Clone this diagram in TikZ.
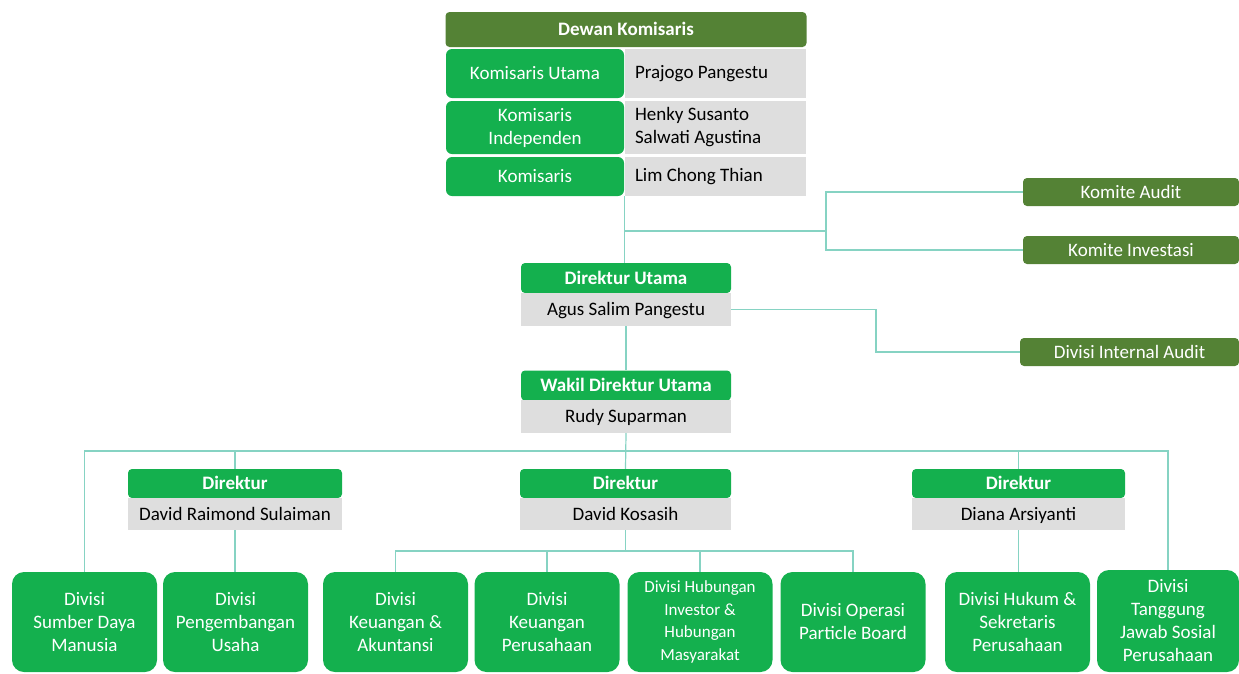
\documentclass[tikz,border=0pt]{standalone}
\usepackage{fontspec}
\setmainfont{Carlito}
\usepackage{tikz}
\definecolor{darkgreen}{HTML}{548235}
\definecolor{brightgreen}{HTML}{14B04E}
\definecolor{namegrey}{HTML}{DEDEDE}
\definecolor{tealline}{HTML}{86D3C3}
\tikzset{every picture/.style={x=1pt, y=-1pt}}
\tikzset{every node/.style={inner sep=0pt, font=\fontsize{19}{23}\selectfont}}
\tikzset{
  darkbox/.style={fill=darkgreen, text=white, font=\fontsize{19}{23}\selectfont\bfseries, rounded corners=4pt, text height=15pt, text depth=3pt},
  titlebox/.style={fill=brightgreen, text=white, font=\fontsize{19}{23}\selectfont\bfseries, rounded corners=4pt, text height=15pt, text depth=3pt},
  rolebox/.style={fill=brightgreen, text=white, align=center, rounded corners=6pt},
  greybox/.style={fill=namegrey, text=black, text height=15pt, text depth=3pt},
  namebox/.style={fill=namegrey, text=black, align=flush left, text width=161pt, inner xsep=10pt},
  divbox/.style={fill=brightgreen, text=white, align=center, rounded corners=12pt, minimum width=145pt, minimum height=100pt},
  link/.style={draw=tealline, line width=1.2pt}
}

\begin{document}
\begin{tikzpicture}
\useasboundingbox (0,0) rectangle (1239,673);

\node[darkbox, minimum width=361pt, minimum height=35pt] (dk) at (626,29.5) {Dewan Komisaris};
\node[rolebox, minimum width=178pt, minimum height=49pt] (k1) at (535,73.5) {Komisaris Utama};
\node[namebox, minimum height=49pt] (k1n) at (715.5,73.5) {Prajogo Pangestu};
\node[rolebox, minimum width=178pt, minimum height=53pt] (k2) at (535,127.5) {Komisaris\\Independen};
\node[namebox, minimum height=53pt] (k2n) at (715.5,127.5) {Henky Susanto\\Salwati Agustina};
\node[rolebox, minimum width=178pt, minimum height=39pt] (k3) at (535,176.5) {Komisaris};
\node[namebox, minimum height=39pt] (k3n) at (715.5,176.5) {Lim Chong Thian};

\node[darkbox, font=\fontsize{19}{23}\selectfont, minimum width=216pt, minimum height=28pt] (ka) at (1131,192) {Komite Audit};
\node[darkbox, font=\fontsize{19}{23}\selectfont, minimum width=216pt, minimum height=28pt] (ki) at (1131,250) {Komite Investasi};
\node[darkbox, font=\fontsize{19}{23}\selectfont, minimum width=219pt, minimum height=28pt] (ia) at (1129.5,352) {Divisi Internal Audit};

\node[titlebox, minimum width=210pt, minimum height=30pt] (du) at (626,278) {Direktur Utama};
\node[greybox, minimum width=210pt, minimum height=33pt] (dun) at (626,309.5) {Agus Salim Pangestu};
\node[titlebox, minimum width=210pt, minimum height=30pt] (wdu) at (626,385.5) {Wakil Direktur Utama};
\node[greybox, minimum width=210pt, minimum height=33pt] (wdun) at (626,416.5) {Rudy Suparman};

\node[titlebox, minimum width=214pt, minimum height=29pt] (d1) at (235,483.5) {Direktur};
\node[greybox, minimum width=214pt, minimum height=32pt] (d1n) at (235,514) {David Raimond Sulaiman};
\node[titlebox, minimum width=211pt, minimum height=29pt] (d2) at (625.5,483.5) {Direktur};
\node[greybox, minimum width=211pt, minimum height=32pt] (d2n) at (625.5,514) {David Kosasih};
\node[titlebox, minimum width=213pt, minimum height=29pt] (d3) at (1018.5,483.5) {Direktur};
\node[greybox, minimum width=213pt, minimum height=32pt] (d3n) at (1018.5,514) {Diana Arsiyanti};

\node[divbox] (b1) at (84.5,622) {Divisi\\Sumber Daya\\Manusia};
\node[divbox] (b2) at (235.5,622) {Divisi\\Pengembangan\\Usaha};
\node[divbox] (b3) at (395.5,622) {Divisi\\Keuangan \&\\Akuntansi};
\node[divbox] (b4) at (547,622) {Divisi\\Keuangan\\Perusahaan};
\node[divbox, font=\fontsize{17}{22.5}\selectfont] (b5) at (700,622) {Divisi Hubungan\\Investor \&\\Hubungan\\Masyarakat};
\node[divbox] (b6) at (853,622) {Divisi Operasi\\Particle Board};
\node[divbox] (b7) at (1017.5,622) {Divisi Hukum \&\\Sekretaris\\Perusahaan};
\node[divbox, minimum width=142pt, minimum height=102pt] (b8) at (1168,621) {Divisi\\Tanggung\\Jawab Sosial\\Perusahaan};

\coordinate (kj) at (826,231);
\coordinate (iab) at (876,330);
\coordinate (bus) at (625.5,451);
\coordinate (sub) at (625.5,551);

\draw[link] (k3.south east) -- (k3.south east |- du.north);
\draw[link] (k3.south east |- kj) -- (kj);
\draw[link] (ka.west) -| (kj) |- (ki.west);
\draw[link] (dun.south) -- (wdu.north);
\draw[link] (dun.east) -| (iab) |- (ia.west);
\draw[link] (wdun.south) -- (d2.north);
\draw[link] (b1.north) |- (bus) -| (b8.north);
\draw[link] (d1.north) -- (d1.north |- bus);
\draw[link] (d3.north) -- (d3.north |- bus);
\draw[link] (d1n.south) -- (d1n.south |- b2.north);
\draw[link] (d3n.south) -- (d3n.south |- b7.north);
\draw[link] (d2n.south) -- (sub);
\draw[link] (b3.north) |- (sub) -| (b6.north);
\draw[link] (b4.north) -- (b4.north |- sub);
\draw[link] (b5.north) -- (b5.north |- sub);
\end{tikzpicture}
\end{document}
